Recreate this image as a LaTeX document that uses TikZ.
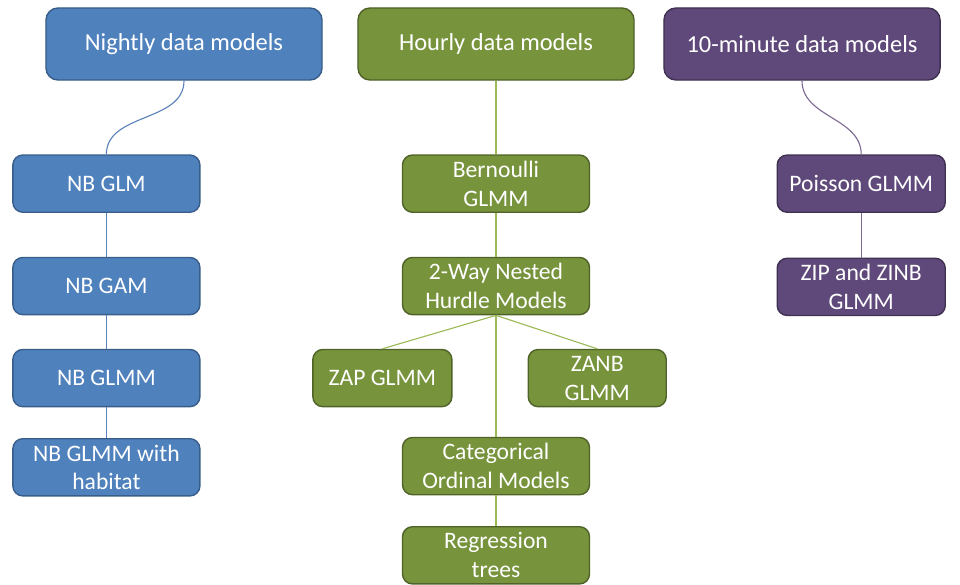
\documentclass[tikz,border=0pt]{standalone}
\usepackage{fontspec}
\setmainfont{Carlito}
\usepackage{tikz}

\definecolor{nightfill}{HTML}{4F81BD}
\definecolor{nightdraw}{HTML}{385D8A}
\definecolor{nightline}{HTML}{5B82BA}
\definecolor{hourfill}{HTML}{77933C}
\definecolor{hourdraw}{HTML}{4F6228}
\definecolor{hourline}{HTML}{9BBB59}
\definecolor{tenfill}{HTML}{5F497A}
\definecolor{tendraw}{HTML}{3F3151}
\definecolor{tenline}{HTML}{7E6A92}

\begin{document}
\begin{tikzpicture}[x=0.025cm, y=-0.025cm, node distance={2.3cm},
    main/.style = {draw, rectangle, line width=1pt, text=white, align=center, inner sep=0pt, font=\fontsize{16.8}{20.5}\selectfont},
    top/.style = {main, rounded corners=3mm, minimum width=6.9cm, minimum height=1.8cm, font=\fontsize{17.4}{20.5}\selectfont},
    small/.style = {main, rounded corners=2.5mm, minimum width=4.675cm, minimum height=1.43cm},
    night/.style = {fill=nightfill, draw=nightdraw},
    hour/.style = {fill=hourfill, draw=hourdraw},
    ten/.style = {fill=tenfill, draw=tendraw}]
            \useasboundingbox (0,0) rectangle (960,585);

            %top row

            \node[top, night] (NIGHTLY) at (184,44) {Nightly data models};
            \node[top, hour] (HOURLY) at (496,44) {Hourly data models};
            \node[top, ten] (TENMIN) at (802,44) {10-minute data models};

            %nightly column

            \node[small, night] (NBGLM) [below of=NIGHTLY, xshift=-1.94cm, node distance=3.49cm] {NB GLM};
            \node[small, night] (NBGAM) [below of=NBGLM, node distance=2.56cm] {NB GAM};
            \node[small, night] (NBGLMM) [below of=NBGAM] {NB GLMM};
            \node[small, night] (NBHAB) [below of=NBGLMM, node distance=2.23cm] {NB GLMM with\\habitat};
            \draw[nightline, line width=0.8pt] (NIGHTLY) to [out=-90, in=90] (NBGLM);
            \draw[nightline, line width=0.8pt] (NBGLM) -- (NBGAM);
            \draw[nightline, line width=0.8pt] (NBGAM) -- (NBGLMM);
            \draw[nightline, line width=0.8pt] (NBGLMM) -- (NBHAB);

            %hourly column

            \node[small, hour] (BERN) [below of=HOURLY, node distance=3.49cm] {Bernoulli\\GLMM};
            \node[small, hour] (HURDLE) [below of=BERN, node distance=2.56cm] {2-Way Nested\\Hurdle Models};
            \node[small, hour, minimum width=3.475cm] (ZAP) [below of=HURDLE, xshift=-2.84cm] {ZAP GLMM};
            \node[small, hour, minimum width=3.45cm] (ZANB) [below of=HURDLE, xshift=2.53cm] {ZANB\\GLMM};
            \node[small, hour] (CATORD) [below of=HURDLE, node distance=4.5cm] {Categorical\\Ordinal Models};
            \node[small, hour] (REGTREE) [below of=CATORD, node distance=2.23cm] {Regression\\trees};
            \draw[hourline, line width=0.8pt] (HOURLY) -- (BERN);
            \draw[hourline, line width=0.8pt] (BERN) -- (HURDLE);
            \draw[hourline, line width=0.8pt] (HURDLE.south) -- (ZAP.north);
            \draw[hourline, line width=0.8pt] (HURDLE.south) -- (ZANB.north);
            \draw[hourline, line width=0.8pt] (HURDLE) -- (CATORD);
            \draw[hourline, line width=0.8pt] (CATORD) -- (REGTREE);

            %10-minute column

            \node[small, ten, minimum width=4.2cm] (POIS) [below of=TENMIN, xshift=1.48cm, node distance=3.49cm] {Poisson GLMM};
            \node[small, ten, minimum width=4.2cm] (ZIP) [below of=POIS, node distance=2.58cm] {ZIP and ZINB\\GLMM};
            \draw[tenline, line width=0.8pt] (TENMIN) to [out=-90, in=90] (POIS);
            \draw[tenline, line width=0.8pt] (POIS) -- (ZIP);
        \end{tikzpicture}
\end{document}
